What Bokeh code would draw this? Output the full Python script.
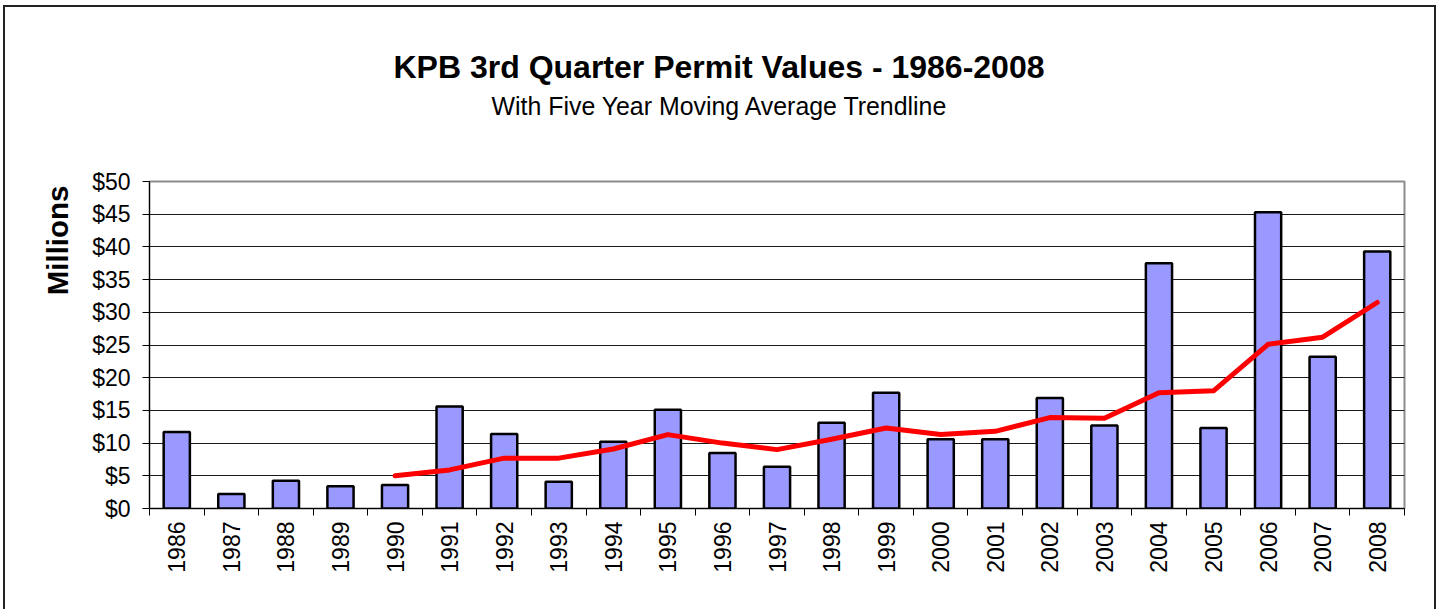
from math import pi
from bokeh.plotting import figure
from bokeh.models import (Range1d, LinearAxis, FixedTicker, PrintfTickFormatter, Title)
from bokeh.embed import file_html
from bokeh.resources import INLINE

# ---------------- data ----------------
years = ["1986", "1987", "1988", "1989", "1990", "1991", "1992", "1993",
         "1994", "1995", "1996", "1997", "1998", "1999", "2000", "2001",
         "2002", "2003", "2004", "2005", "2006", "2007", "2008"]
permit_values = [11.7, 2.2, 4.25, 3.4, 3.6, 15.6, 11.4, 4.1, 10.2, 15.1,
                 8.5, 6.4, 13.1, 17.7, 10.6, 10.6, 16.9, 12.7, 37.5, 12.3,
                 45.3, 23.2, 39.3]
trend_years = ["1990", "1991", "1992", "1993", "1994", "1995", "1996",
               "1997", "1998", "1999", "2000", "2001", "2002", "2003",
               "2004", "2005", "2006", "2007", "2008"]
trend_values = [5.0, 5.9, 7.7, 7.7, 9.1, 11.3, 10.0, 9.0, 10.6, 12.3,
                11.3, 11.8, 13.9, 13.8, 17.7, 18.0, 25.1, 26.2, 31.5]
y_ticks = [0, 5, 10, 15, 20, 25, 30, 35, 40, 45, 50]
title_text = "KPB 3rd Quarter Permit Values - 1986-2008"
subtitle_text = "With Five Year Moving Average Trendline"
y_label_text = "Millions"

FONT = "Liberation Sans"

# category positions (index of each year)
x_pos = list(range(len(years)))
trend_pos = [years.index(y) for y in trend_years]
edge_ticks = [i - 0.5 for i in range(len(years) + 1)]

p = figure(width=1433, height=604, output_backend="svg", toolbar_location=None,
           x_range=Range1d(-0.5, len(years) - 0.5), y_range=Range1d(0, 50),
           x_axis_location=None, y_axis_location=None,
           min_border_left=144, min_border_right=34,
           min_border_top=174, min_border_bottom=103)
p.title.visible = False
p.background_fill_color = "white"
p.border_fill_color = "white"
p.outline_line_color = "#8c8c8c"
p.outline_line_width = 2
p.styles = {"border-top": "2px solid #222222", "border-left": "2px solid #222222",
            "border-right": "2px solid #222222",
            "margin-left": "3px", "margin-top": "5px"}

# y axis
yaxis = LinearAxis(ticker=FixedTicker(ticks=y_ticks),
                   formatter=PrintfTickFormatter(format="$%d"))
yaxis.major_tick_out = 7
yaxis.major_tick_in = 0
yaxis.minor_tick_line_color = None
yaxis.axis_line_color = "black"
yaxis.major_tick_line_color = "black"
yaxis.major_label_text_font = FONT
yaxis.major_label_text_font_size = "23px"
yaxis.major_label_text_color = "black"
yaxis.major_label_standoff = 12
p.add_layout(yaxis, "left")

# x axis: ticks between categories
tick_axis = LinearAxis(ticker=FixedTicker(ticks=edge_ticks))
tick_axis.major_tick_out = 7
tick_axis.major_tick_in = 0
tick_axis.minor_tick_line_color = None
tick_axis.axis_line_color = "black"
tick_axis.major_tick_line_color = "black"
tick_axis.major_label_text_font_size = "0px"
tick_axis.major_label_text_alpha = 0
tick_axis.major_label_standoff = 0
p.add_layout(tick_axis, "below")

# x axis: category labels
cat_axis = LinearAxis(ticker=FixedTicker(ticks=x_pos),
                      major_label_overrides={i: y for i, y in zip(x_pos, years)})
cat_axis.axis_line_color = None
cat_axis.major_tick_line_color = None
cat_axis.minor_tick_line_color = None
cat_axis.major_tick_out = 0
cat_axis.major_tick_in = 0
cat_axis.major_label_orientation = pi / 2
cat_axis.major_label_text_font = FONT
cat_axis.major_label_text_font_size = "23px"
cat_axis.major_label_text_color = "black"
cat_axis.major_label_standoff = 6
p.add_layout(cat_axis, "below")

p.xgrid.visible = False
p.ygrid.ticker = FixedTicker(ticks=y_ticks)
p.ygrid.grid_line_color = "#1a1a1a"
p.ygrid.grid_line_width = 1

p.vbar(x=x_pos, top=permit_values, width=0.48, fill_color="#9999FF",
       line_color="black", line_width=2.5)
p.line(x=trend_pos, y=trend_values, line_color="#FF0000", line_width=5,
       line_join="round", line_cap="round")

# titles above the plot: spacer (closest to plot), subtitle, title
p.add_layout(Title(text=" ", text_font=FONT, text_font_size="10px",
                   align="left", standoff=47), "above")
p.add_layout(Title(text=subtitle_text, text_font=FONT, text_font_size="24.9px",
                   text_font_style="normal", text_color="black", align="left",
                   offset=342, standoff=4), "above")
p.add_layout(Title(text=title_text, text_font=FONT, text_font_size="32px",
                   text_font_style="bold", text_color="black", align="left",
                   offset=244, standoff=5), "above")
p.add_layout(Title(text=y_label_text, text_font=FONT, text_font_size="29.5px",
                   text_font_style="bold", text_color="black", align="right",
                   offset=4, standoff=32), "left")

open("out.html", "w").write(file_html(p, INLINE))
